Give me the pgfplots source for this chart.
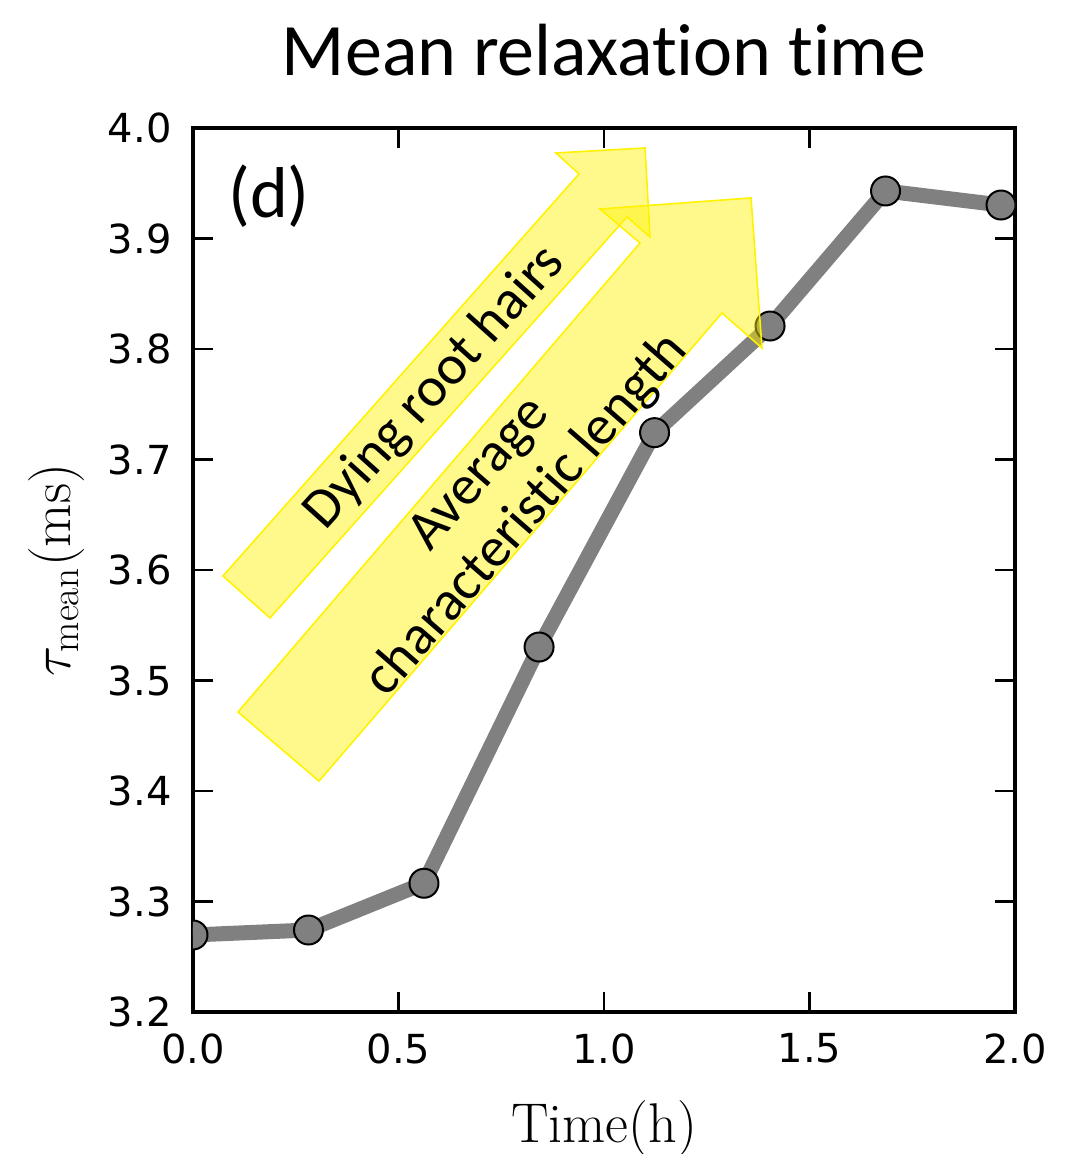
\RequirePackage{fix-cm}
\documentclass[border=0pt]{standalone}
\usepackage{fontspec}
\usepackage{pgfplots}
\pgfplotsset{compat=1.18}
\newfontfamily\carlito[Ligatures=NoCommon]{Carlito}
\newfontfamily\dejavu{DejaVu Sans}
\definecolor{linegray}{RGB}{128,128,128}
\begin{document}
\begin{tikzpicture}
\begin{axis}[
  at={(0,0)}, anchor=south west,
  scale only axis, width=411pt, height=442pt,
  xmin=0, xmax=2, ymin=3.2, ymax=4.0,
  xtick={0,0.5,1.0,1.5,2.0},
  ytick={3.2,3.3,3.4,3.5,3.6,3.7,3.8,3.9,4.0},
  tick align=inside,
  major tick length=10pt,
  every tick/.style={black, line width=1.2pt},
  axis line style={black, line width=2pt},
  /pgf/number format/assume math mode=true,
  xticklabel style={font=\dejavu\fontsize{20}{24}\selectfont, anchor=north, inner sep=0pt, yshift=-10.5pt,
    /pgf/number format/.cd, fixed, fixed zerofill, precision=1},
  yticklabel style={font=\dejavu\fontsize{20}{24}\selectfont, anchor=east, inner sep=0pt, xshift=-10.5pt,
    /pgf/number format/.cd, fixed, fixed zerofill, precision=1},
  title={Mean relaxation time},
  title style={font=\carlito\fontsize{37}{42}\selectfont, at={(axis description cs:0.5,1.04525)}, anchor=base, yshift=0pt, inner sep=0pt},
  xlabel={$\mathrm{Time(h)}$},
  xlabel style={font=\fontsize{28}{34}\selectfont, at={(axis description cs:0.5,-0.1471)}, anchor=base, inner sep=0pt},
  ylabel={$\tau_{\mathrm{mean}}(\mathrm{ms})$},
  ylabel style={font=\fontsize{28}{34}\selectfont, at={(axis description cs:-0.1496,0.5)}, anchor=base, inner sep=0pt, rotate=0},
  clip marker paths=true,
]
\addplot[color=linegray, line width=7.5pt, line join=round, mark=*, mark size=7.25pt,
  mark options={fill=linegray, draw=black, line width=1pt}]
  coordinates {(0,3.2697) (0.281,3.2742) (0.562,3.3165) (0.842,3.5303) (1.123,3.7243) (1.404,3.8208) (1.685,3.9430) (1.966,3.9303)};
% annotation arrows
\draw[draw=yellow, line width=0.8pt, fill=yellow, fill opacity=0.45, draw opacity=1]
  (axis cs:0.0730,3.5946) -- (axis cs:0.9392,3.9584) -- (axis cs:0.8832,3.9774) -- (axis cs:1.0998,3.9819)
  -- (axis cs:1.1119,3.9014) -- (axis cs:1.0560,3.9195) -- (axis cs:0.1873,3.5566) -- cycle;
\draw[draw=yellow, line width=0.8pt, fill=yellow, fill opacity=0.45, draw opacity=1]
  (axis cs:0.1095,3.4715) -- (axis cs:1.0876,3.8959) -- (axis cs:0.9903,3.9267) -- (axis cs:1.3577,3.9367)
  -- (axis cs:1.3844,3.8009) -- (axis cs:1.2871,3.8326) -- (axis cs:0.3066,3.4090) -- cycle;
\node[rotate=48, font=\carlito\fontsize{28}{32}\selectfont] at (axis cs:0.589,3.765) {Dying root hairs};
\node[rotate=49, align=center, font=\carlito\fontsize{28}{31.5}\selectfont] at (axis cs:0.757,3.667) {Average\\characteristic length};
\node[anchor=base west, inner sep=0pt, font=\carlito\fontsize{36}{42}\selectfont] at (axis cs:0.085,3.919) {(d)};
\end{axis}
\pgfresetboundingbox
\useasboundingbox (-96.5pt,-71pt) rectangle (437pt,506pt);
\end{tikzpicture}
\end{document}
